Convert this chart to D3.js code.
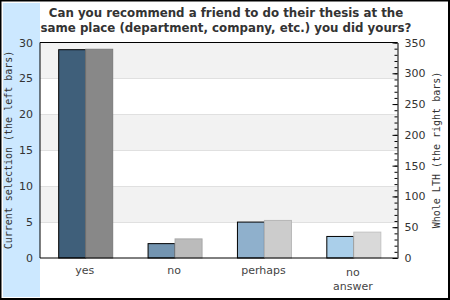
<!DOCTYPE html>
<html>
<head>
<meta charset="utf-8">
<script src="https://cdn.jsdelivr.net/npm/d3@7"></script>
<style>
  body { margin: 0; background: #fff; }
  svg { display: block; }
</style>
</head>
<body>
<svg id="chart" width="450" height="300"></svg>
<script>
// data
const categories = ['yes', 'no', 'perhaps', 'no answer'];
const currentSelection = [29, 2, 5, 3];
const wholeLTH = [339, 31, 61, 42];
const leftColours = ['#3f5f7a', '#7394b0', '#8fb0cc', '#aacfea'];
const rightColours = ['#888888', '#bbbbbb', '#cccccc', '#d9d9d9'];

const width = 450, height = 300;
const margins = { left: 40, right: 52.5, top: 42.5, bottom: 42 };
const vis = d3.select('#chart');

// outer frame + blue side strip
vis.append('rect')
  .attr('x', 0.5).attr('y', 0.5)
  .attr('width', width - 1.5).attr('height', height - 1.5)
  .attr('fill', '#fff').attr('stroke', '#000').attr('stroke-width', 2);
vis.append('rect')
  .attr('x', 3).attr('y', 3)
  .attr('width', 37).attr('height', 294)
  .attr('fill', '#cce8ff');

const x0 = margins.left, x1 = width - margins.right;
const yTop = margins.top, yBot = height - margins.bottom;

const xScale = d3.scaleBand().domain(categories).range([x0, x1]);
const yLeft = d3.scaleLinear().domain([0, 30]).range([yBot, yTop]);
const yRight = d3.scaleLinear().domain([0, 350]).range([yBot, yTop]);

// alternating bands behind the bars
const bandTicks = d3.range(0, 30, 5);
vis.append('g').selectAll('rect')
  .data(bandTicks)
  .join('rect')
  .attr('x', x0)
  .attr('width', x1 - x0)
  .attr('y', d => yLeft(d + 5))
  .attr('height', d => yLeft(d) - yLeft(d + 5))
  .attr('fill', (d, i) => i % 2 === 1 ? '#f2f2f2' : '#ffffff');

vis.append('g').selectAll('line')
  .data(d3.range(5, 30, 5))
  .join('line')
  .attr('x1', x0).attr('x2', x1)
  .attr('y1', d => Math.round(yLeft(d)) + 0.5)
  .attr('y2', d => Math.round(yLeft(d)) + 0.5)
  .attr('stroke', '#e0e0e0');

// bars
const barW = 27;
const bars = vis.append('g');
categories.forEach((c, i) => {
  const cx = xScale(c) + xScale.bandwidth() / 2 + 0.5;
  bars.append('rect')
    .attr('x', cx - barW + 0.5)
    .attr('y', yLeft(currentSelection[i]))
    .attr('width', barW)
    .attr('height', yBot - yLeft(currentSelection[i]))
    .attr('fill', leftColours[i])
    .attr('stroke', '#000');
  bars.append('rect')
    .attr('x', cx + 0.5)
    .attr('y', yRight(wholeLTH[i]))
    .attr('width', barW)
    .attr('height', yBot - yRight(wholeLTH[i]))
    .attr('fill', rightColours[i])
    .attr('stroke', d3.color(rightColours[i]).darker(0.3));
});

// plot frame (top, left, bottom)
vis.append('path')
  .attr('d', `M${x1},${yTop}H${x0}V${yBot}H${x1}`)
  .attr('fill', 'none').attr('stroke', '#000');

// left axis labels, no ticks
const yAxisL = d3.axisLeft(yLeft).tickValues(d3.range(0, 31, 5)).tickSize(0).tickPadding(7);
const gL = vis.append('g').attr('transform', `translate(${x0},0)`).call(yAxisL);
gL.select('.domain').remove();
gL.selectAll('text').attr('font-family', 'DejaVu Sans').attr('font-size', 11).attr('fill', '#333');

// right axis, major + minor inward ticks
const gRm = vis.append('g').attr('transform', `translate(${x1},0)`)
  .call(d3.axisLeft(yRight).tickValues(d3.range(0, 351, 10)).tickSize(3).tickFormat(''));
gRm.select('.domain').remove();
const gR = vis.append('g').attr('transform', `translate(${x1},0)`)
  .call(d3.axisRight(yRight).tickValues(d3.range(0, 351, 50)).tickSize(0).tickPadding(7).tickSizeOuter(0));
gR.selectAll('.tick').append('line').attr('x2', -5).attr('stroke', '#000');
gR.select('.domain').attr('stroke', '#000');
gR.selectAll('text').attr('font-family', 'DejaVu Sans').attr('font-size', 11).attr('fill', '#333');

// category labels
const labelLines = categories.map(c => c === 'no answer' ? ['no', 'answer'] : [c]);
categories.forEach((c, i) => {
  const t = vis.append('text')
    .attr('x', xScale(c) + xScale.bandwidth() / 2)
    .attr('y', 274)
    .attr('text-anchor', 'middle')
    .attr('font-family', 'DejaVu Sans').attr('font-size', 11)
    .attr('fill', '#444');
  labelLines[i].forEach((l, j) => {
    t.append('tspan').attr('x', xScale(c) + xScale.bandwidth() / 2)
      .attr('dy', j === 0 ? (labelLines[i].length > 1 ? 2 : 0) : 14).text(l);
  });
});

// axis titles
vis.append('text')
  .attr('transform', 'translate(12,150) rotate(-90)')
  .attr('text-anchor', 'middle')
  .attr('font-family', 'DejaVu Sans Mono').attr('font-size', 10)
  .attr('fill', '#333')
  .text('Current selection (the left bars)');
vis.append('text')
  .attr('transform', 'translate(440,150) rotate(-90)')
  .attr('text-anchor', 'middle')
  .attr('font-family', 'DejaVu Sans Mono').attr('font-size', 10)
  .attr('fill', '#333')
  .text('Whole LTH (the right bars)');

// title
const title = ['Can you recommend a friend to do their thesis at the',
  'same place (department, company, etc.) you did yours?'];
title.forEach((l, i) => {
  vis.append('text')
    .attr('x', 226).attr('y', 17 + i * 15)
    .attr('text-anchor', 'middle')
    .attr('font-family', 'DejaVu Sans').attr('font-weight', 'bold').attr('font-size', 11.8)
    .attr('fill', '#333')
    .text(l);
});
</script>
</body>
</html>
